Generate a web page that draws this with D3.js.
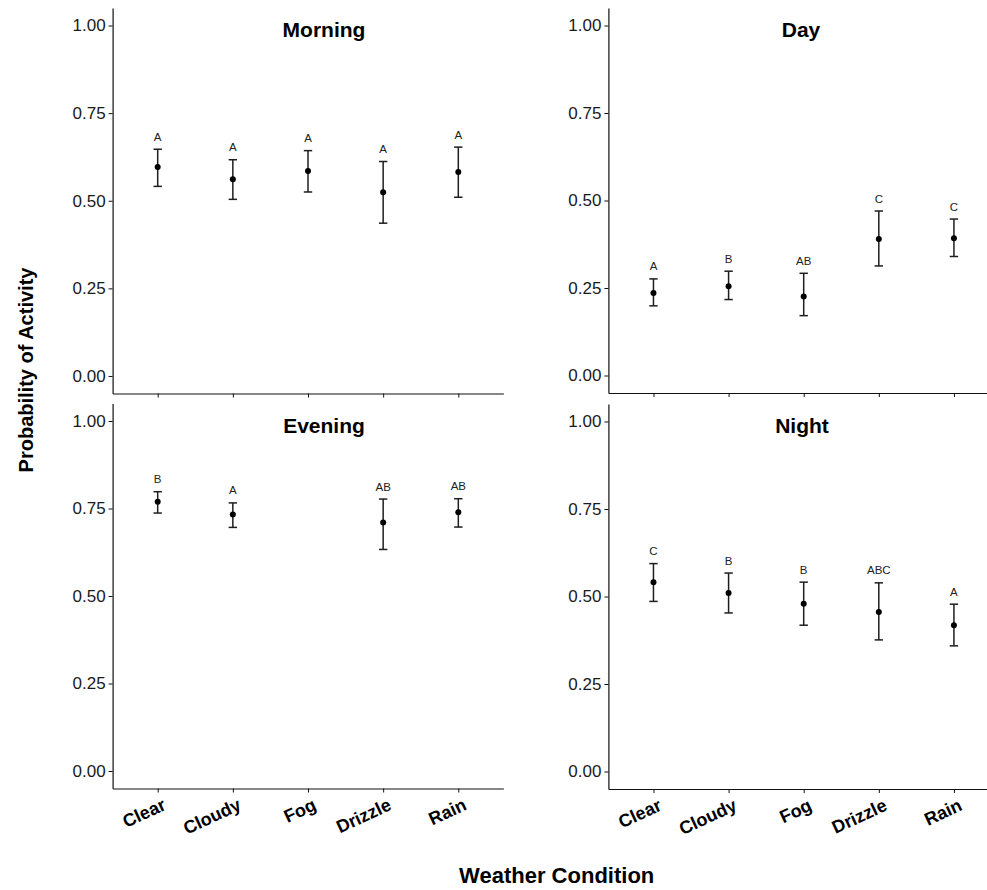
<!DOCTYPE html>
<html>
<head>
<meta charset="utf-8">
<script src="https://cdn.jsdelivr.net/npm/d3@7"></script>
<style>
  body { margin: 0; background: #fff; }
  svg { font-family: "Liberation Sans", Arial, sans-serif; }
  .axis path, .axis line { stroke: #111; }
  .axis text { fill: #1a1a1a; }
</style>
</head>
<body>
<svg id="chart" width="987" height="890"></svg>
<script>
// weather categories shared by every panel
const categories = ['Clear', 'Cloudy', 'Fog', 'Drizzle', 'Rain'];
const yTicks = [0, 0.25, 0.5, 0.75, 1];

// Morning
const morningMean  = [0.596, 0.561, 0.585, 0.524, 0.582];
const morningLower = [0.541, 0.504, 0.525, 0.436, 0.510];
const morningUpper = [0.647, 0.617, 0.643, 0.612, 0.653];
const morningLetters = ['A', 'A', 'A', 'A', 'A'];

// Day
const dayMean  = [0.236, 0.255, 0.226, 0.390, 0.392];
const dayLower = [0.199, 0.217, 0.171, 0.313, 0.340];
const dayUpper = [0.276, 0.298, 0.292, 0.470, 0.447];
const dayLetters = ['A', 'B', 'AB', 'C', 'C'];

// Evening (no fog observations)
const eveningMean  = [0.769, 0.733, null, 0.710, 0.739];
const eveningLower = [0.737, 0.696, null, 0.633, 0.697];
const eveningUpper = [0.798, 0.766, null, 0.777, 0.778];
const eveningLetters = ['B', 'A', null, 'AB', 'AB'];

// Night
const nightMean  = [0.541, 0.510, 0.479, 0.456, 0.418];
const nightLower = [0.486, 0.453, 0.418, 0.376, 0.359];
const nightUpper = [0.594, 0.567, 0.541, 0.539, 0.478];
const nightLetters = ['C', 'B', 'B', 'ABC', 'A'];


class weather_panel {

    constructor(_config, title, mean, lower, upper, letters) {
      this.config = {
        parentElement: _config.parentElement,
        left: _config.left,
        right: _config.right,
        top: _config.top,
        bottom: _config.bottom,
        titleX: _config.titleX,
        showXLabels: _config.showXLabels || false,
        tickColor: _config.tickColor || '#111'
      }
      this.title = title;
      this.data = categories.map((c, i) => ({
        cat: c, mean: mean[i], lower: lower[i], upper: upper[i], letter: letters[i]
      })).filter(d => d.mean != null);
      this.initVis();
    }

    initVis() {
        let vis = this;

        vis.xScale = d3.scalePoint()
            .domain(categories)
            .range([vis.config.left, vis.config.right])
            .padding(0.6);

        // ggplot style 5% expansion around 0..1
        vis.yScale = d3.scaleLinear()
            .domain([-0.05, 1.05])
            .range([vis.config.bottom, vis.config.top]);

        vis.svg = d3.select(vis.config.parentElement);
        vis.chart = vis.svg.append('g');

        vis.xAxis = d3.axisBottom(vis.xScale)
            .tickSize(4)
            .tickSizeOuter(0)
            .tickFormat('');

        vis.yAxis = d3.axisLeft(vis.yScale)
            .tickValues(yTicks)
            .tickFormat(d3.format('.2f'))
            .tickSize(4)
            .tickSizeOuter(0)
            .tickPadding(3);

        vis.renderVis();
    }

    renderVis() {
        let vis = this;

        let xg = vis.chart.append('g')
            .attr('class', 'axis x-axis')
            .attr('transform', `translate(0,${vis.config.bottom})`)
            .call(vis.xAxis);
        xg.select('.domain').attr('stroke-width', 1.2);
        xg.selectAll('.tick line').attr('stroke', vis.config.tickColor);

        let yg = vis.chart.append('g')
            .attr('class', 'axis y-axis')
            .attr('transform', `translate(${vis.config.left},0)`)
            .call(vis.yAxis);
        yg.select('.domain').attr('stroke-width', 1.2);
        yg.selectAll('text').style('font-size', '17px');

        if (vis.config.showXLabels) {
            vis.chart.append('g')
                .selectAll('text')
                .data(categories)
                .join('text')
                .attr('transform', d => `translate(${vis.xScale(d) + 4},${vis.config.bottom + 9}) rotate(-25)`)
                .attr('dy', '0.71em')
                .attr('text-anchor', 'end')
                .style('font-size', '18px')
                .style('font-weight', 'bold')
                .text(d => d);
        }

        // error bars
        let capW = 4.2;
        let bars = vis.chart.append('g')
            .selectAll('g')
            .data(vis.data)
            .join('g')
            .attr('stroke', '#1e1e1e')
            .attr('stroke-width', 1.5);

        bars.append('line')
            .attr('x1', d => vis.xScale(d.cat))
            .attr('x2', d => vis.xScale(d.cat))
            .attr('y1', d => vis.yScale(d.lower))
            .attr('y2', d => vis.yScale(d.upper));
        bars.append('line')
            .attr('x1', d => vis.xScale(d.cat) - capW)
            .attr('x2', d => vis.xScale(d.cat) + capW)
            .attr('y1', d => vis.yScale(d.upper))
            .attr('y2', d => vis.yScale(d.upper));
        bars.append('line')
            .attr('x1', d => vis.xScale(d.cat) - capW)
            .attr('x2', d => vis.xScale(d.cat) + capW)
            .attr('y1', d => vis.yScale(d.lower))
            .attr('y2', d => vis.yScale(d.lower));

        vis.chart.append('g')
            .selectAll('circle')
            .data(vis.data)
            .join('circle')
            .attr('cx', d => vis.xScale(d.cat))
            .attr('cy', d => vis.yScale(d.mean))
            .attr('r', 3)
            .attr('fill', '#000');

        // significance letters
        vis.chart.append('g')
            .selectAll('text')
            .data(vis.data)
            .join('text')
            .attr('x', d => vis.xScale(d.cat))
            .attr('y', d => vis.yScale(d.upper) - 8.5)
            .attr('text-anchor', 'middle')
            .style('font-size', '11.5px')
            .style('fill', '#222')
            .text(d => d.letter);

        vis.chart.append('text')
            .attr('x', vis.config.titleX)
            .attr('y', vis.yScale(1) + 11.5)
            .attr('text-anchor', 'middle')
            .style('font-size', '21px')
            .style('font-weight', 'bold')
            .text(vis.title);
    }
}

const svg = d3.select('#chart');

new weather_panel({parentElement: '#chart', left: 112.6, right: 503.4, top: 8, bottom: 393.5,
                   titleX: 324, tickColor: '#e4e4e4'},
                  'Morning', morningMean, morningLower, morningUpper, morningLetters);
new weather_panel({parentElement: '#chart', left: 608.4, right: 999, top: 8, bottom: 393,
                   titleX: 801},
                  'Day', dayMean, dayLower, dayUpper, dayLetters);
new weather_panel({parentElement: '#chart', left: 112.6, right: 503.4, top: 403.5, bottom: 788.5,
                   titleX: 324, showXLabels: true},
                  'Evening', eveningMean, eveningLower, eveningUpper, eveningLetters);
new weather_panel({parentElement: '#chart', left: 608.4, right: 999, top: 404, bottom: 789,
                   titleX: 802, showXLabels: true},
                  'Night', nightMean, nightLower, nightUpper, nightLetters);

// shared axis titles
svg.append('text')
    .attr('transform', 'translate(33,370) rotate(-90)')
    .attr('text-anchor', 'middle')
    .style('font-size', '20px')
    .style('font-weight', 'bold')
    .text('Probability of Activity');

svg.append('text')
    .attr('x', 556.7)
    .attr('y', 883)
    .attr('text-anchor', 'middle')
    .style('font-size', '22px')
    .style('font-weight', 'bold')
    .text('Weather Condition');
</script>
</body>
</html>
